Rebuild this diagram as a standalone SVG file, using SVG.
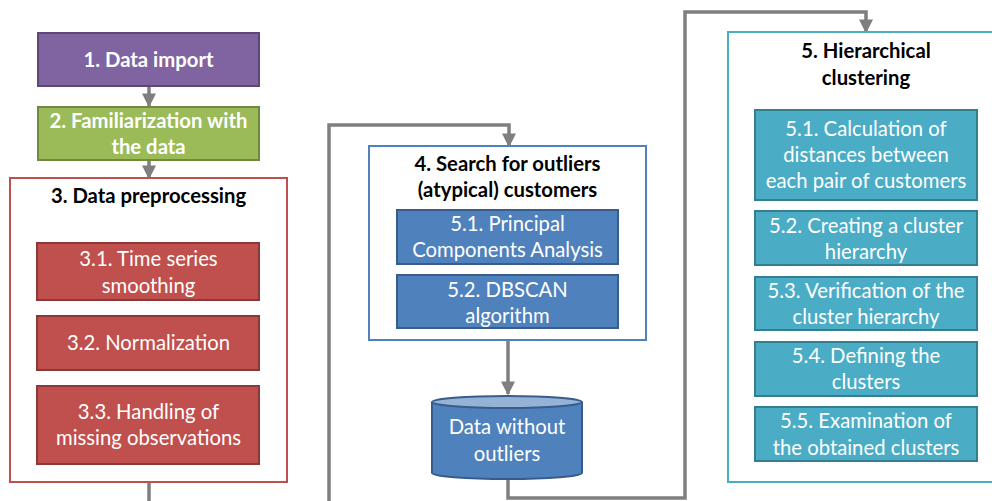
<svg xmlns="http://www.w3.org/2000/svg" width="992" height="501" viewBox="0 0 992 501">
<style>
text{font-family:Lato,"Open Sans","Liberation Sans",sans-serif;font-size:20.3px;text-anchor:middle}
.w{fill:#fff}
.b{font-weight:bold}
.k{fill:#000;font-weight:bold}
.con{fill:none;stroke:#7f7f7f;stroke-width:3.5}
</style>
<defs>
<marker id="ah" viewBox="0 0 10 10" refX="9" refY="5" markerWidth="4" markerHeight="4" markerUnits="strokeWidth" orient="auto"><path d="M0,0 L10,5 L0,10 z" fill="#7f7f7f"/></marker>
</defs>
<rect width="992" height="501" fill="#fff"/>
<g id="connectors">
<path class="con" d="M149,86 V106" marker-end="url(#ah)"/>
<path class="con" d="M149,160 V178" marker-end="url(#ah)"/>
<path class="con" d="M149,482 V503 M329,503 V125 H509 V146" marker-end="url(#ah)"/>
<path class="con" d="M508,340 V394" marker-end="url(#ah)"/>
<path class="con" d="M508,478 V498 H685 V12 H866 V32" marker-end="url(#ah)"/>
</g>
<g id="n1"><rect x="38" y="33" width="221" height="53" fill="#8064a2" stroke="#5c4776" stroke-width="2"/><text class="w b" x="148.5" y="67">1. Data import</text></g>
<g id="n2"><rect x="38" y="107" width="221" height="53" fill="#9bbb59" stroke="#71893f" stroke-width="2"/><text class="w b" x="148.5" y="128">2. Familiarization with</text><text class="w b" x="148.5" y="154">the data</text></g>
<g id="n3"><rect x="10" y="178" width="277" height="304" fill="#fff" stroke="#c0504d" stroke-width="2"/><text class="k" x="148.5" y="203">3. Data preprocessing</text></g>
<g id="n31"><rect x="37" y="243" width="222" height="57" fill="#c0504d" stroke="#8c3836" stroke-width="2"/><text class="w" x="148.5" y="266">3.1. Time series</text><text class="w" x="148.5" y="293">smoothing</text></g>
<g id="n32"><rect x="37" y="316" width="222" height="54" fill="#c0504d" stroke="#8c3836" stroke-width="2"/><text class="w" x="148.5" y="350">3.2. Normalization</text></g>
<g id="n33"><rect x="37" y="386" width="222" height="78" fill="#c0504d" stroke="#8c3836" stroke-width="2"/><text class="w" x="148.5" y="419">3.3. Handling of</text><text class="w" x="148.5" y="445">missing observations</text></g>
<g id="n4"><rect x="369" y="146" width="277" height="194" fill="#fff" stroke="#4f81bd" stroke-width="2"/><text class="k" x="507.5" y="171">4. Search for outliers</text><text class="k" x="507.5" y="197">(atypical) customers</text></g>
<g id="n41"><rect x="397" y="210" width="221" height="54" fill="#4f81bd" stroke="#385d8a" stroke-width="2"/><text class="w" x="507.5" y="231">5.1. Principal</text><text class="w" x="507.5" y="257">Components Analysis</text></g>
<g id="n42"><rect x="397" y="275" width="221" height="53" fill="#4f81bd" stroke="#385d8a" stroke-width="2"/><text class="w" x="507.5" y="297">5.2. DBSCAN</text><text class="w" x="507.5" y="323">algorithm</text></g>
<g id="db"><path d="M432,402 V473 A75,6 0 0 0 582,473 V402" fill="#4f81bd" stroke="#385d8a" stroke-width="2"/><ellipse cx="507" cy="402" rx="75" ry="6" fill="#95b3d7" stroke="#385d8a" stroke-width="2"/><text class="w" x="507" y="434">Data without</text><text class="w" x="507" y="461">outliers</text></g>
<g id="n5"><rect x="728" y="32" width="275" height="450" fill="#fff" stroke="#4bacc6" stroke-width="2"/><text class="k" x="866" y="58">5. Hierarchical</text><text class="k" x="866" y="85">clustering</text></g>
<g id="n51"><rect x="755" y="110" width="222" height="90" fill="#4bacc6" stroke="#357d91" stroke-width="2"/><text class="w" x="866" y="136">5.1. Calculation of</text><text class="w" x="866" y="162">distances between</text><text class="w" x="866" y="188">each pair of customers</text></g>
<g id="n52"><rect x="755" y="211" width="222" height="54" fill="#4bacc6" stroke="#357d91" stroke-width="2"/><text class="w" x="866" y="233">5.2. Creating a cluster</text><text class="w" x="866" y="259">hierarchy</text></g>
<g id="n53"><rect x="755" y="277" width="222" height="53" fill="#4bacc6" stroke="#357d91" stroke-width="2"/><text class="w" x="866" y="298">5.3. Verification of the</text><text class="w" x="866" y="324">cluster hierarchy</text></g>
<g id="n54"><rect x="755" y="342" width="222" height="54" fill="#4bacc6" stroke="#357d91" stroke-width="2"/><text class="w" x="866" y="363">5.4. Defining the</text><text class="w" x="866" y="389">clusters</text></g>
<g id="n55"><rect x="755" y="407" width="222" height="54" fill="#4bacc6" stroke="#357d91" stroke-width="2"/><text class="w" x="866" y="428">5.5. Examination of</text><text class="w" x="866" y="455">the obtained clusters</text></g>
</svg>
